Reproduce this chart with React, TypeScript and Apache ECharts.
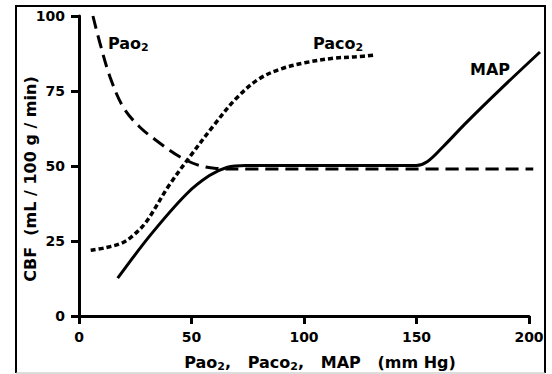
import React, { useEffect, useRef } from "react";
import * as echarts from "echarts";

const xTicks = [0, 50, 100, 150, 200];
const yTicks = [0, 25, 50, 75, 100];

const pao2X = [6.2, 9.3, 13.8, 19.6, 27, 36, 45, 53, 61, 70, 202];
const pao2Y = [100, 91, 79.7, 69.7, 63, 57.6, 53, 50.3, 49.2, 49, 49];

const paco2X = [5.2, 12, 19, 24, 30, 40, 50, 60, 70, 80, 90, 101, 113, 123, 132];
const paco2Y = [21.9, 22.8, 24.3, 26.8, 31.5, 43.5, 53.8, 63.6, 72.6, 79, 82.4, 84.5, 85.9, 86.4, 87];

const mapX = [17.2, 32, 47.7, 58, 66, 74, 150, 155, 162, 172, 187, 205];
const mapY = [12.6, 27.2, 40.6, 46.8, 49.6, 50.2, 50.2, 51.5, 56.5, 64.3, 75.3, 88];

const FONT = "DejaVu Sans";

const zip = (xs: number[], ys: number[]) => xs.map((x, i) => [x, ys[i]]);

const rich = {
  n: { fontFamily: FONT, fontWeight: "bold", fontSize: 16, color: "#000" },
  s: { fontFamily: FONT, fontWeight: "bold", fontSize: 11, color: "#000", padding: [9, 0, 0, 0] },
};

export default function App() {
  const ref = useRef<HTMLDivElement>(null);
  useEffect(() => {
    if (!ref.current) return;
    const chart = echarts.init(ref.current, null, { renderer: "svg" });
    const axisStyle = { lineStyle: { color: "#000", width: 3 } };
    const hidden = {
      show: false,
      axisLine: { show: false },
      axisTick: { show: false },
      axisLabel: { show: false },
      splitLine: { show: false },
    };
    chart.setOption({
      animation: false,
      grid: [
        { left: 79, right: 23, top: 16, bottom: 58, containLabel: false },
        { left: 79, right: 12, top: 16, bottom: 58, containLabel: false },
      ],
      xAxis: [
        {
          type: "value",
          gridIndex: 0,
          min: 0,
          max: 200,
          interval: 50,
          axisLine: { show: true, onZero: false, ...axisStyle },
          axisTick: { show: true, length: 8, ...axisStyle },
          axisLabel: {
            margin: 14,
            color: "#000",
            fontFamily: FONT,
            fontWeight: "bold",
            fontSize: 14,
            formatter: (v: number) => (xTicks.includes(v) ? String(v) : ""),
          },
          splitLine: { show: false },
        },
        { type: "value", gridIndex: 1, min: 0, max: 205, ...hidden },
      ],
      yAxis: [
        {
          type: "value",
          gridIndex: 0,
          min: 0,
          max: 100,
          interval: 25,
          axisLine: { show: true, onZero: false, ...axisStyle },
          axisTick: { show: true, length: 8, ...axisStyle },
          axisLabel: {
            margin: 14,
            color: "#000",
            fontFamily: FONT,
            fontWeight: "bold",
            fontSize: 14,
            formatter: (v: number) => (yTicks.includes(v) ? String(v) : ""),
          },
          splitLine: { show: false },
        },
        { type: "value", gridIndex: 1, min: 0, max: 100, ...hidden },
      ],
      series: [
        {
          name: "Pao2",
          type: "line",
          xAxisIndex: 1,
          yAxisIndex: 1,
          data: zip(pao2X, pao2Y),
          showSymbol: false,
          clip: false,
          smooth: 0.35,
          lineStyle: { color: "#000", width: 3, type: [13, 7] },
        },
        {
          name: "Paco2",
          type: "line",
          xAxisIndex: 1,
          yAxisIndex: 1,
          data: zip(paco2X, paco2Y),
          showSymbol: false,
          clip: false,
          smooth: 0.35,
          lineStyle: { color: "#000", width: 3.5, type: [5, 3] },
        },
        {
          name: "MAP",
          type: "line",
          xAxisIndex: 1,
          yAxisIndex: 1,
          data: zip(mapX, mapY),
          showSymbol: false,
          clip: false,
          smooth: 0.35,
          lineStyle: { color: "#000", width: 3 },
        },
      ],
      graphic: [
        {
          type: "polyline",
          shape: { points: [[16, 373], [16, 6], [545, 6], [545, 373]] },
          style: { stroke: "#000", lineWidth: 2, fill: "none" },
          silent: true,
        },
        {
          type: "line",
          shape: { x1: 16, y1: 373, x2: 545, y2: 373 },
          style: { stroke: "#bbb", lineWidth: 1 },
          silent: true,
        },
        {
          type: "text",
          x: 108,
          y: 43,
          style: { text: "{n|Pao}{s|2}", rich, textAlign: "left", textVerticalAlign: "middle" },
        },
        {
          type: "text",
          x: 313,
          y: 43,
          style: { text: "{n|Paco}{s|2}", rich, textAlign: "left", textVerticalAlign: "middle" },
        },
        {
          type: "text",
          x: 470,
          y: 69,
          style: { text: "{n|MAP}", rich, textAlign: "left", textVerticalAlign: "middle" },
        },
        {
          type: "text",
          x: 320,
          y: 362,
          style: {
            text: "{n|Pao}{s|2}{n|,   Paco}{s|2}{n|,   MAP   (mm Hg)}",
            rich,
            textAlign: "center",
            textVerticalAlign: "middle",
          },
        },
        {
          type: "text",
          x: 30,
          y: 179,
          rotation: Math.PI / 2,
          style: {
            text: "CBF  (mL / 100 g / min)",
            fontFamily: FONT,
            fontWeight: "bold",
            fontSize: 16,
            fill: "#000",
            textAlign: "center",
            textVerticalAlign: "middle",
          },
        },
      ],
    });
    return () => chart.dispose();
  }, []);
  return (
    <div
      ref={ref}
      style={{ position: "absolute", left: 0, top: 0, width: 552, height: 374, background: "#fff" }}
    />
  );
}
